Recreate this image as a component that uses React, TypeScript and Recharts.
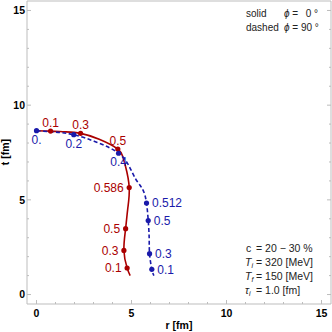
import { ComposedChart, Line, Scatter, XAxis, YAxis } from "recharts";

const RED = "#aa0000";
const BLUE = "#1a1aaa";
const FRAME = "#bdbdbd";

// freeze-out curve, phi = 0 (solid)
const redCurve = [
  { r: 0, t: 8.65 },
  { r: 0.74, t: 8.63 },
  { r: 1.5, t: 8.59 },
  { r: 2.32, t: 8.51 },
  { r: 3.3, t: 8.2 },
  { r: 4.28, t: 7.68 },
  { r: 4.54, t: 7.28 },
  { r: 4.68, t: 6.79 },
  { r: 4.88, t: 5.65 },
  { r: 4.8, t: 4.51 },
  { r: 4.69, t: 3.48 },
  { r: 4.6, t: 2.33 },
  { r: 4.77, t: 1.4 },
  { r: 4.93, t: 1.0 },
];

// freeze-out curve, phi = 90 (dashed)
const blueCurve = [
  { r: 0, t: 8.65 },
  { r: 1.0, t: 8.58 },
  { r: 1.96, t: 8.44 },
  { r: 3.2, t: 8.03 },
  { r: 4.32, t: 7.46 },
  { r: 4.89, t: 6.75 },
  { r: 5.25, t: 6.05 },
  { r: 5.6, t: 5.53 },
  { r: 5.79, t: 4.83 },
  { r: 5.88, t: 3.91 },
  { r: 5.93, t: 3.0 },
  { r: 5.95, t: 2.16 },
  { r: 6.07, t: 1.33 },
  { r: 6.18, t: 1.0 },
];

const redUpperMarks = [
  { r: 0.74, t: 8.63, label: "0.1" },
  { r: 2.32, t: 8.51, label: "0.3" },
  { r: 4.28, t: 7.68, label: "0.5" },
];
const redLowerMarks = [
  { r: 4.88, t: 5.65, label: "0.586" },
  { r: 4.69, t: 3.48, label: "0.5" },
  { r: 4.6, t: 2.33, label: "0.3" },
  { r: 4.77, t: 1.4, label: "0.1" },
];
const blueUpperMarks = [
  { r: 0, t: 8.65, label: "0." },
  { r: 1.96, t: 8.44, label: "0.2" },
  { r: 4.32, t: 7.46, label: "0.4" },
];
const blueLowerMarks = [
  { r: 5.79, t: 4.83, label: "0.512" },
  { r: 5.88, t: 3.91, label: "0.5" },
  { r: 5.95, t: 2.16, label: "0.3" },
  { r: 6.07, t: 1.33, label: "0.1" },
];

const axisTicks = [0, 1, 2, 3, 4, 5, 6, 7, 8, 9, 10, 11, 12, 13, 14, 15];
const majorTicks = [0, 5, 10, 15];
const domain = [-0.5, 15.5];

const tickLen = (v: number) => (majorTicks.includes(v) ? 4 : 2);

function BottomTick(props: any) {
  const { x, y, payload } = props;
  const major = majorTicks.includes(payload.value);
  return (
    <g>
      <line x1={x} y1={y} x2={x} y2={y - tickLen(payload.value)} stroke={FRAME} />
      {major && (
        <text x={x} y={y + 12.7} textAnchor="middle" fontSize={10.5} fontWeight="bold" fill="#000">
          {payload.value}
        </text>
      )}
    </g>
  );
}

function LeftTick(props: any) {
  const { x, y, payload } = props;
  const major = majorTicks.includes(payload.value);
  return (
    <g>
      <line x1={x} y1={y} x2={x + tickLen(payload.value)} y2={y} stroke={FRAME} />
      {major && (
        <text x={x - 2} y={y + 3.8} textAnchor="end" fontSize={10.5} fontWeight="bold" fill="#000">
          {payload.value}
        </text>
      )}
    </g>
  );
}

function TopTick(props: any) {
  const { x, y, payload } = props;
  return <line x1={x} y1={y} x2={x} y2={y + tickLen(payload.value)} stroke={FRAME} />;
}

function RightTick(props: any) {
  const { x, y, payload } = props;
  return <line x1={x} y1={y} x2={x - tickLen(payload.value)} y2={y} stroke={FRAME} />;
}

const markShape = (color: string, side: string) => (props: any) => {
  const { cx, cy, payload } = props;
  let tx = cx;
  let ty = cy;
  let anchor = "middle";
  if (side === "above") ty = cy - 4.5;
  else if (side === "below") ty = cy + 13;
  else if (side === "left") {
    tx = cx - 5.5;
    ty = cy + 4.3;
    anchor = "end";
  } else {
    tx = cx + 5.5;
    ty = cy + 4.3;
    anchor = "start";
  }
  return (
    <g>
      <circle cx={cx} cy={cy} r={2.6} fill={color} />
      <text x={tx} y={ty} textAnchor={anchor as any} fontSize={12} fill={color}>
        {payload.label}
      </text>
    </g>
  );
};

export default function App() {
  return (
    <div
      style={{
        position: "absolute",
        left: 0,
        top: 0,
        width: 332,
        height: 332,
        fontFamily: "'Liberation Sans', Arial, sans-serif",
      }}
    >
      <ComposedChart width={332} height={332} margin={{ top: 0, right: 0, bottom: 0, left: 0 }}>
        <XAxis
          dataKey="r"
          type="number"
          domain={domain}
          allowDataOverflow
          ticks={axisTicks}
          interval={0}
          height={28}
          stroke={FRAME}
          tickLine={false}
          tickSize={0}
          tickMargin={0}
          tick={(p: any) => <BottomTick {...p} />}
        />
        <XAxis
          xAxisId="top"
          orientation="top"
          type="number"
          domain={domain}
          allowDataOverflow
          ticks={axisTicks}
          interval={0}
          height={1}
          stroke={FRAME}
          tickLine={false}
          tickSize={0}
          tickMargin={0}
          tick={(p: any) => <TopTick {...p} />}
        />
        <YAxis
          dataKey="t"
          type="number"
          domain={domain}
          allowDataOverflow
          ticks={axisTicks}
          interval={0}
          width={27}
          stroke={FRAME}
          tickLine={false}
          tickSize={0}
          tickMargin={0}
          tick={(p: any) => <LeftTick {...p} />}
        />
        <YAxis
          yAxisId="right"
          orientation="right"
          type="number"
          domain={domain}
          allowDataOverflow
          ticks={axisTicks}
          interval={0}
          width={1}
          stroke={FRAME}
          tickLine={false}
          tickSize={0}
          tickMargin={0}
          tick={(p: any) => <RightTick {...p} />}
        />
        <Line
          data={redCurve}
          dataKey="t"
          type="natural"
          stroke={RED}
          strokeWidth={1.6}
          dot={false}
          isAnimationActive={false}
        />
        <Line
          data={blueCurve}
          dataKey="t"
          type="natural"
          stroke={BLUE}
          strokeWidth={1.6}
          strokeDasharray="4 2.5"
          dot={false}
          isAnimationActive={false}
        />
        <Scatter data={redUpperMarks} dataKey="t" fill={RED} shape={markShape(RED, "above")} isAnimationActive={false} />
        <Scatter data={redLowerMarks} dataKey="t" fill={RED} shape={markShape(RED, "left")} isAnimationActive={false} />
        <Scatter data={blueUpperMarks} dataKey="t" fill={BLUE} shape={markShape(BLUE, "below")} isAnimationActive={false} />
        <Scatter data={blueLowerMarks} dataKey="t" fill={BLUE} shape={markShape(BLUE, "right")} isAnimationActive={false} />
      </ComposedChart>
      <svg
        width={332}
        height={332}
        style={{ position: "absolute", left: 0, top: 0, pointerEvents: "none" }}
      >
        <text x={179} y={329} textAnchor="middle" fontSize={10.5} fontWeight="bold" fill="#000">
          r [fm]
        </text>
        <text
          transform="translate(9,152) rotate(-90)"
          textAnchor="middle"
          fontSize={10.5}
          fontWeight="bold"
          fill="#000"
        >
          t [fm]
        </text>
        <g fontSize={10} fill="#222">
          <text x={246} y={17}>solid</text>
          <text x={284} y={17}>
            <tspan fontStyle="italic">ϕ</tspan> =
          </text>
          <text x={318} y={17} textAnchor="end">0 °</text>
          <text x={246} y={31}>dashed</text>
          <text x={284} y={31}>
            <tspan fontStyle="italic">ϕ</tspan> = 90 °
          </text>
        </g>
        <g fontSize={10.5} fill="#222">
          <text x={246} y={251.8}>c</text>
          <text x={256} y={251.8}>= 20 − 30 %</text>
          <text x={245} y={265.8}>
            <tspan fontStyle="italic">T</tspan>
            <tspan fontStyle="italic" fontSize={7} dy={2}>i</tspan>
          </text>
          <text x={256} y={265.8}>= 320 [MeV]</text>
          <text x={245} y={279.8}>
            <tspan fontStyle="italic">T</tspan>
            <tspan fontStyle="italic" fontSize={7} dy={2}>f</tspan>
          </text>
          <text x={256} y={279.8}>= 150 [MeV]</text>
          <text x={245} y={293.8}>
            <tspan fontStyle="italic">τ</tspan>
            <tspan fontStyle="italic" fontSize={7} dy={2}>i</tspan>
          </text>
          <text x={256} y={293.8}>= 1.0 [fm]</text>
        </g>
      </svg>
    </div>
  );
}
